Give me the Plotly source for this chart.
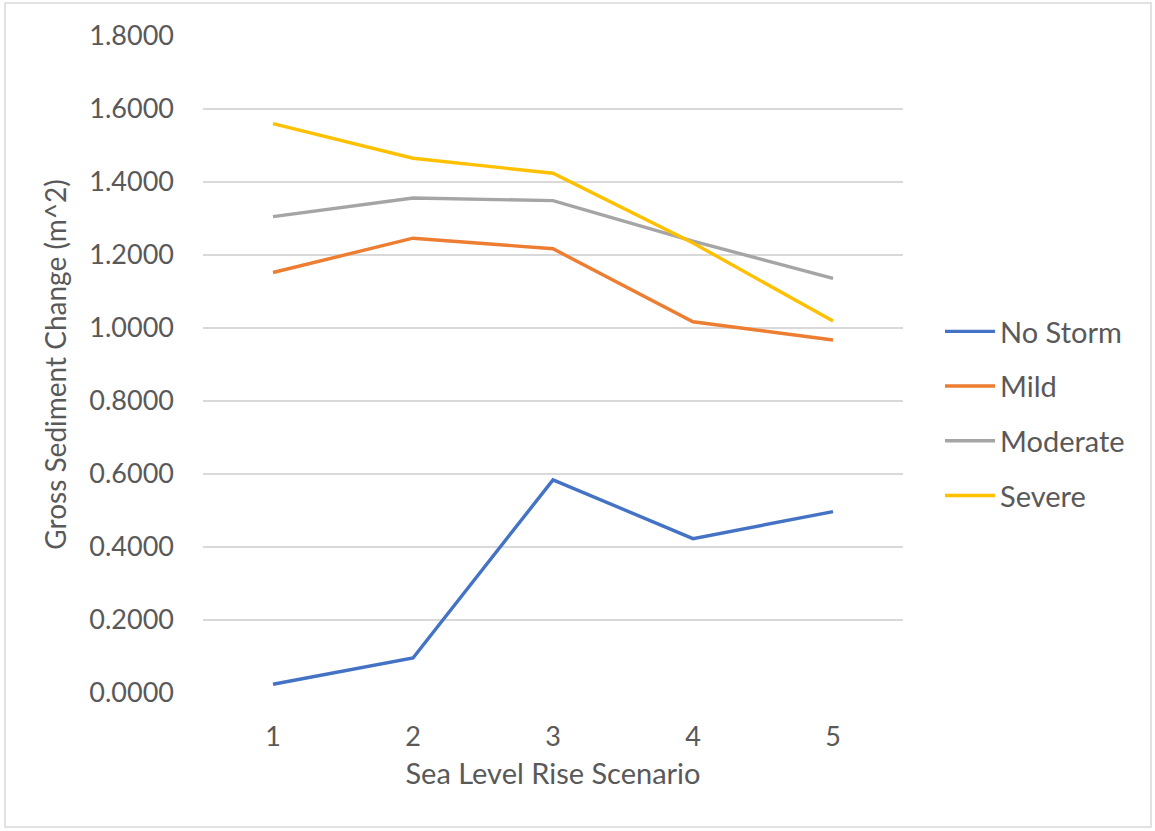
import plotly.graph_objects as go

scenarios = [1, 2, 3, 4, 5]
no_storm = [0.024, 0.096, 0.584, 0.423, 0.497]
mild = [1.152, 1.246, 1.217, 1.017, 0.967]
moderate = [1.305, 1.356, 1.349, 1.238, 1.136]
severe = [1.560, 1.465, 1.424, 1.233, 1.019]

series = [
    ("No Storm", no_storm, "#4472C4"),
    ("Mild", mild, "#ED7D31"),
    ("Moderate", moderate, "#A5A5A5"),
    ("Severe", severe, "#FFC000"),
]

W, H = 1155, 831
L, R, T, B = 203, 252, 36, 138
pw, ph = W - L - R, H - T - B

fig = go.Figure()
for i, (name, vals, color) in enumerate(series):
    fig.add_trace(go.Scatter(
        x=scenarios, y=vals, name=name, mode="lines",
        line=dict(color=color, width=3.4),
        legendgroup=f"g{i}",
    ))

font = "Lato, Open Sans, sans-serif"
txt = "#595959"

# light outer frame around the whole chart
fig.add_shape(
    type="rect", xref="paper", yref="paper",
    x0=(5 - L) / pw, x1=(W - 4 - L) / pw,
    y0=(H - (H - 4) - B) / ph, y1=(H - 3 - B) / ph,
    line=dict(color="#D9D9D9", width=1.5), fillcolor="rgba(0,0,0,0)",
)

fig.update_layout(
    width=W, height=H,
    margin=dict(l=L, r=R, t=T, b=B, autoexpand=False),
    paper_bgcolor="white", plot_bgcolor="white",
    font=dict(family=font, color=txt, size=26),
    showlegend=True,
    legend=dict(
        x=(940 - L) / pw, xanchor="left",
        y=(H - 306 - B) / ph, yanchor="top",
        font=dict(family=font, size=29, color=txt),
        tracegroupgap=14,
        itemwidth=50,
        bgcolor="rgba(0,0,0,0)",
    ),
    xaxis=dict(
        range=[0.5, 5.5], tickmode="array", tickvals=scenarios,
        ticktext=[str(s) for s in scenarios],
        showgrid=False, zeroline=False, showline=False, ticks="",
        ticklabelstandoff=25,
        tickfont=dict(family=font, size=27, color=txt),
        title=dict(text="Sea Level Rise Scenario", standoff=12,
                   font=dict(family=font, size=29, color=txt)),
        automargin=False, fixedrange=True,
    ),
    yaxis=dict(
        range=[0, 1.8], dtick=0.2, tick0=0, tickformat=".4f",
        showgrid=True, gridcolor="#D9D9D9", gridwidth=1.5,
        zeroline=False, showline=False, ticks="",
        ticklabelstandoff=28,
        tickfont=dict(family=font, size=27, color=txt),
        title=dict(text="Gross Sediment Change (m^2)", standoff=14,
                   font=dict(family=font, size=28, color=txt)),
        automargin=False, fixedrange=True,
    ),
)

fig.write_html("out.html")
